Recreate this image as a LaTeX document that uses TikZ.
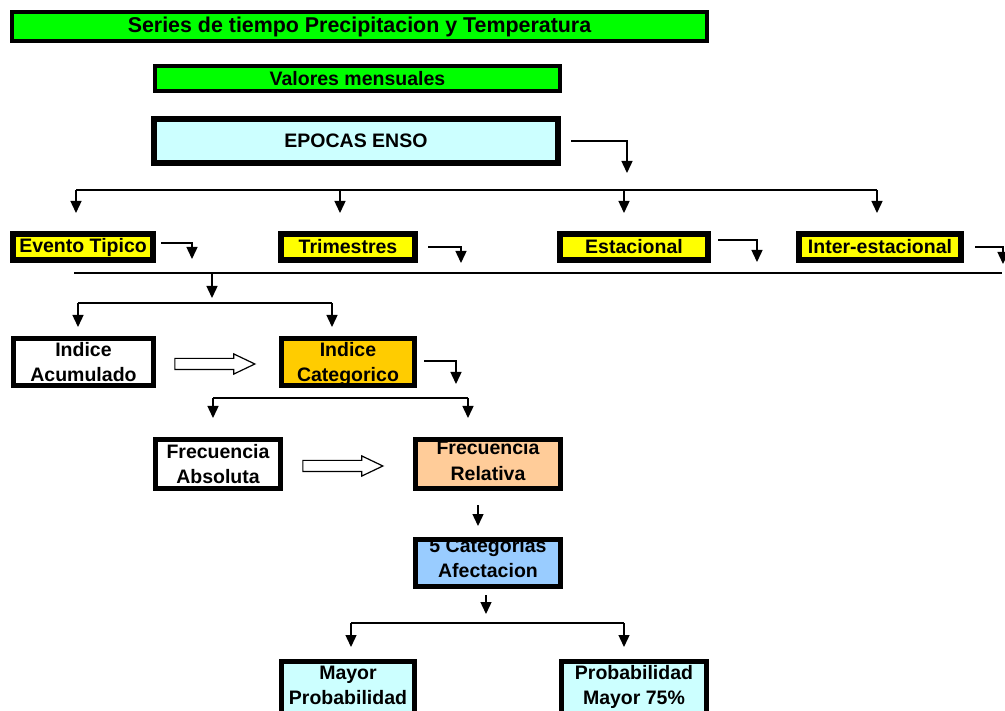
\documentclass[tikz,border=0pt]{standalone}
\usepackage{fontspec}
\setmainfont{Liberation Sans}
\usetikzlibrary{arrows.meta,shapes.arrows}
\definecolor{vgreen}{HTML}{00FF00}
\definecolor{lcyan}{HTML}{CCFFFF}
\definecolor{vyellow}{HTML}{FFFF00}
\definecolor{gold}{HTML}{FFCC00}
\definecolor{peach}{HTML}{FFCC99}
\definecolor{lblue}{HTML}{99CCFF}
\begin{document}
\begin{tikzpicture}[x=1pt,y=-1pt,
  lbl/.style={font=\bfseries\fontsize{19.5}{25}\selectfont},
  box/.style={lbl, draw=black, inner sep=0pt, align=center},
  twoline/.style={text height=39pt, text depth=0pt},
  yel/.style={box, line width=6pt, fill=vyellow, minimum height=26pt},
  bx/.style={box, twoline, line width=5pt, minimum height=47pt},
  con/.style={line width=1.4pt, draw=black},
  arr/.style={con, -{Triangle[width=11pt,length=12pt]}},
  harrow/.style={single arrow, draw=black, line width=1.2pt, fill=white,
    inner xsep=0pt, inner ysep=5pt, single arrow head extend=4.5pt,
    single arrow tip angle=51, minimum width=0pt, minimum height=80pt}]
\useasboundingbox (0,0) rectangle (1005,711);
\fill[white] (0,0) rectangle (1005,711);

% boxes
\node[box, line width=4pt, fill=vgreen, minimum width=695pt, minimum height=29pt,
  font=\bfseries\fontsize{21.4}{26}\selectfont] (title) at (359.5,26.5)
  {Series de tiempo Precipitacion y Temperatura};
\node[box, line width=4pt, fill=vgreen, minimum width=405pt, minimum height=25pt]
  (valores) at (357.5,78.5) {Valores mensuales};
\node[box, line width=6pt, fill=lcyan, minimum width=404pt, minimum height=44pt]
  (epocas) at (356,141) {EPOCAS ENSO};

\node[yel, minimum width=140pt] (evento) at (83,247) {Evento Tipico};
\node[yel, minimum width=134pt] (trim) at (348,247) {Trimestres};
\node[yel, minimum width=148pt] (estac) at (634,247) {Estacional};
\node[yel, minimum width=162pt] (inter) at (880,247) {Inter-estacional};

\node[bx, fill=white, minimum width=140pt] (indac) at (83.5,362) {Indice\\Acumulado};
\node[bx, fill=gold, minimum width=133pt] (indcat) at (348,362) {Indice\\Categorico};
\node[bx, fill=white, minimum width=125pt, minimum height=49pt] (frabs) at (218,464) {Frecuencia\\Absoluta};
\node[bx, fill=peach, minimum width=145pt, minimum height=49pt, text height=32pt] (frrel) at (488,464) {Frecuencia\\Relativa};
\node[bx, fill=lblue, minimum width=145pt, text height=28pt] (cat5) at (488,563) {5 Categorias\\Afectacion};
\node[bx, fill=lcyan, minimum width=133pt, minimum height=54pt, text height=31pt] (mayorp) at (348,688.5) {Mayor\\Probabilidad};
\node[bx, fill=lcyan, minimum width=145pt, minimum height=54pt, text height=31pt] (prob75) at (634,688.5) {Probabilidad\\Mayor 75\%};

% hollow arrows
\node[harrow] (ha1) at (209,364) {};
\node[harrow] (ha2) at (337,466) {};

% EPOCAS side arrow
\coordinate (eTip) at (627,173);
\draw[arr] ([xshift=10pt]epocas.east) -| (eTip);

% bus 1
\coordinate (bus1) at (0,190);
\coordinate (t1) at (76,213);
\coordinate (t2) at (340,213);
\coordinate (t3) at (624,213);
\coordinate (t4) at (877,213);
\draw[con] (t1|-bus1) -- (t4|-bus1);
\foreach \t in {t1,t2,t3,t4} \draw[arr] (\t|-bus1) -- (\t);

% side arrows of yellow boxes
\coordinate (s1) at (192,259);
\coordinate (s2) at (461,263);
\coordinate (s3) at (757,262);
\coordinate (s4) at (1003,264);
\draw[arr] ([xshift=5pt,yshift=4pt]evento.east) -| (s1);
\draw[arr] ([xshift=10pt]trim.east) -| (s2);
\draw[arr] ([xshift=7pt,yshift=7pt]estac.east) -| (s3);
\draw[arr] ([xshift=11pt]inter.east) -| (s4);

% bus 2
\coordinate (b2L) at (74,273);
\coordinate (b2R) at (1002,273);
\draw[con] (b2L) -- (b2R);
\coordinate (d0) at (212,298);
\draw[arr] (d0|-b2L) -- (d0);

% bus 3
\coordinate (bus3) at (0,303);
\coordinate (u1) at (78,327);
\coordinate (u2) at (332,327);
\draw[con] (u1|-bus3) -- (u2|-bus3);
\draw[arr] (u1|-bus3) -- (u1);
\draw[arr] (u2|-bus3) -- (u2);

% Categorico side arrow
\coordinate (c1) at (456,384);
\draw[arr] ([xshift=7pt,yshift=1pt]indcat.east) -| (c1);

% bus 4
\coordinate (bus4) at (0,398);
\coordinate (v1) at (213,418);
\coordinate (v2) at (468,418);
\draw[con] (v1|-bus4) -- (v2|-bus4);
\draw[arr] (v1|-bus4) -- (v1);
\draw[arr] (v2|-bus4) -- (v2);

% down arrows
\coordinate (w0) at (478,505);
\coordinate (w1) at (478,526);
\draw[arr] (w0) -- (w1);
\coordinate (x0) at (486,595);
\coordinate (x1) at (486,614);
\draw[arr] (x0) -- (x1);

% bus 5
\coordinate (bus5) at (0,623);
\coordinate (z1) at (351,647);
\coordinate (z2) at (624,647);
\draw[con] (z1|-bus5) -- (z2|-bus5);
\draw[arr] (z1|-bus5) -- (z1);
\draw[arr] (z2|-bus5) -- (z2);
\end{tikzpicture}
\end{document}
